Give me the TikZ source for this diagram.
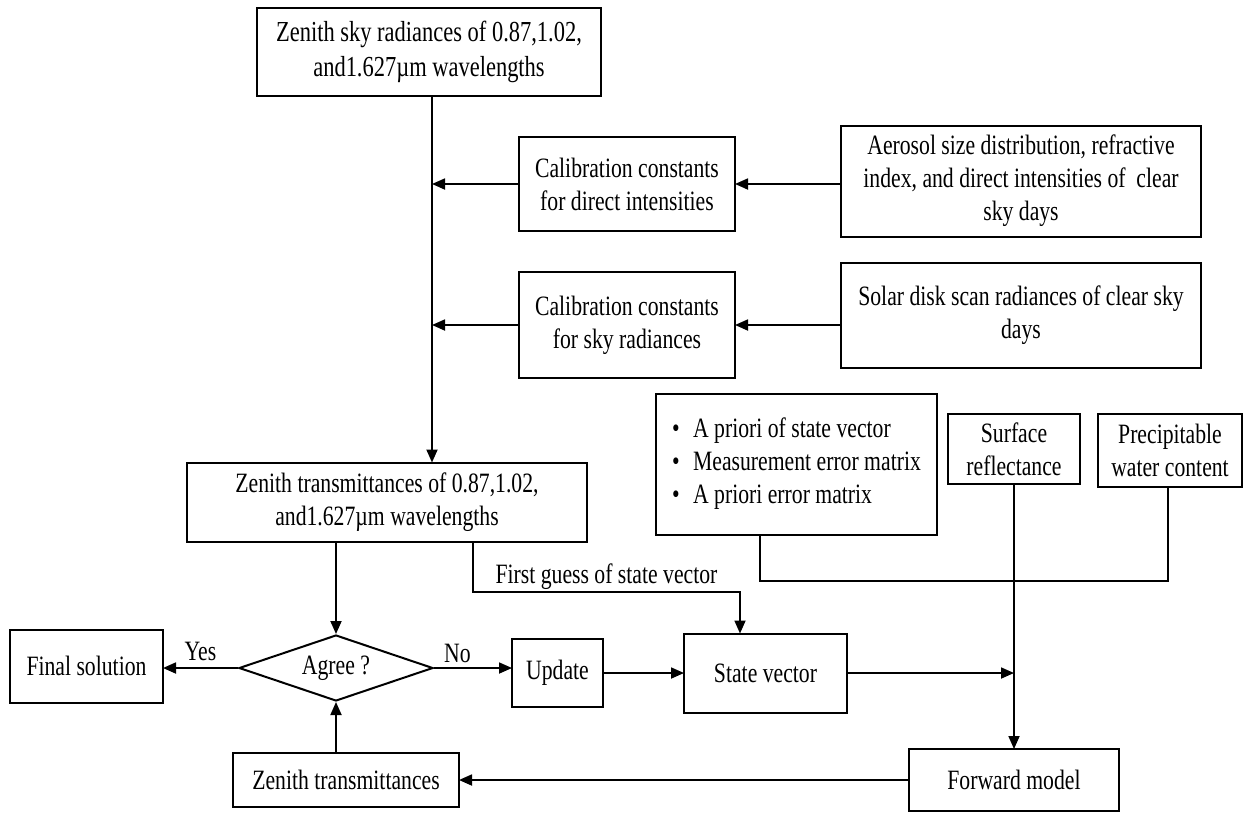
\documentclass[tikz,border=0pt]{standalone}
\usepackage{fontspec}
\setmainfont[FakeStretch=0.775]{Liberation Serif}
\usetikzlibrary{arrows.meta,shapes.geometric}
\begin{document}
\begin{tikzpicture}[x=1pt,y=-1pt,
  font=\fontsize{28}{33}\selectfont,
  box/.style={draw, line width=2pt, align=center, inner sep=0pt, outer sep=0pt},
  conn/.style={line width=1.8pt},
  arr/.style={conn, -{Triangle[length=13pt,width=11pt]}},
  lbl/.style={inner sep=2pt}]
\useasboundingbox (0,0) rectangle (1245,812);

% nodes
\node[box, minimum width=344pt, minimum height=88pt, font=\fontsize{29}{35}\selectfont] (top) at (429,52)
  {Zenith sky radiances of 0.87,1.02,\\and1.627µm wavelengths};
\node[box, minimum width=216pt, minimum height=94pt] (caldir) at (627,184)
  {Calibration constants\\for direct intensities};
\node[box, minimum width=360pt, minimum height=111pt] (aer) at (1021,181)
  {Aerosol size distribution, refractive\\index, and direct intensities of\ \ clear\\sky days};
\node[box, minimum width=216pt, minimum height=106pt] (calsky) at (627,325)
  {Calibration constants\\for sky radiances};
\node[box, minimum width=360pt, minimum height=105pt] (solar) at (1021,315)
  {Solar disk scan radiances of clear sky\\days};
\node[box, minimum width=281pt, minimum height=141pt, align=left] (bul) at (796.5,464)
  {\makebox[21pt][l]{•}A priori of state vector\\\makebox[21pt][l]{•}Measurement error matrix\\\makebox[21pt][l]{•}A priori error matrix};
\node[box, minimum width=132pt, minimum height=70pt] (surf) at (1014,449)
  {Surface\\reflectance};
\node[box, minimum width=144pt, minimum height=73pt] (prec) at (1170,450.5)
  {Precipitable\\water content};
\node[box, minimum width=400pt, minimum height=79pt] (zt) at (387,502)
  {Zenith transmittances of 0.87,1.02,\\and1.627µm wavelengths};
\node[draw, diamond, line width=2pt, minimum width=194pt, minimum height=66pt,
  inner sep=0pt, aspect=2.94] (dia) at (336,668) {Agree ?};
\node[box, minimum width=153pt, minimum height=73pt] (final) at (86.5,666)
  {Final solution};
\node[box, minimum width=91pt, minimum height=68pt] (upd) at (557.5,673)
  {Update};
\node[box, minimum width=163pt, minimum height=79pt] (state) at (765.5,673)
  {State vector};
\node[box, minimum width=210pt, minimum height=62pt] (fwd) at (1014,780)
  {Forward model};
\node[box, minimum width=226pt, minimum height=54pt] (zt2) at (346,780)
  {Zenith transmittances};

% helper coordinates
\coordinate (mx) at (432,0);
\coordinate (fg1) at (473,592);
\coordinate (fg2) at (740,592);
\coordinate (b1) at (760,581);
\coordinate (b2) at (1168,581);
\coordinate (bus) at (1014,581);

% connectors
\draw[arr] (top.south -| mx) -- (zt.north -| mx);
\draw[arr] (aer.west |- caldir.east) -- (caldir.east);
\draw[arr] (caldir.west) -- (caldir.west -| mx);
\draw[arr] (solar.west |- calsky.east) -- (calsky.east);
\draw[arr] (calsky.west) -- (calsky.west -| mx);

\draw[arr] (zt.south -| dia) -- (dia.north);
\draw[arr] (zt.south -| fg1) -- (fg1) -- node[lbl, midway, above] {First guess of state vector} (fg2) -- (state.north -| fg2);

\draw[arr] (dia.west) -- node[lbl, midway, above=4pt] {Yes} (final.east |- dia.west);
\draw[arr] (dia.east) -- node[lbl, pos=0.3, above=2pt] {No} (upd.west |- dia.east);
\draw[arr] (upd.east) -- (state.west |- upd.east);
\draw[arr] (state.east) -- (state.east -| bus);

\draw[conn] (bul.south -| b1) -- (b1) -- (b2) -- (prec.south -| b2);
\draw[conn] (surf.south) -- (bus);
\draw[arr] (bus) -- (fwd.north);

\draw[arr] (fwd.west) -- (zt2.east |- fwd.west);
\draw[arr] (zt2.north -| dia) -- (dia.south);
\end{tikzpicture}
\end{document}
